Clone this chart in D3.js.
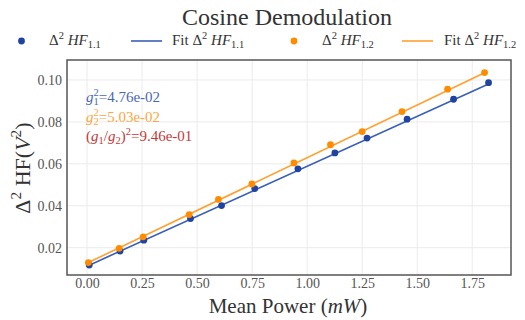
<!DOCTYPE html>
<html>
<head>
<meta charset="utf-8">
<script src="https://cdn.jsdelivr.net/npm/d3@7"></script>
<style>
  body { margin: 0; background: #fff; }
  svg text { font-family: "Liberation Serif", "DejaVu Serif", serif; }
</style>
</head>
<body>
<div id="chart"></div>
<script>
// measured points, mean power (mW) vs Δ²HF (V²)
const power11 = [0.010, 0.150, 0.258, 0.470, 0.611, 0.762, 0.958, 1.126, 1.272, 1.454, 1.665, 1.824];
const hf11    = [0.0117, 0.0184, 0.0236, 0.0339, 0.0401, 0.0482, 0.0576, 0.0652, 0.0723, 0.0813, 0.0908, 0.0987];
const power12 = [0.006, 0.146, 0.255, 0.464, 0.597, 0.749, 0.940, 1.106, 1.250, 1.431, 1.638, 1.806];
const hf12    = [0.0129, 0.0197, 0.0252, 0.0358, 0.0430, 0.0504, 0.0604, 0.0691, 0.0754, 0.0849, 0.0956, 0.1035];

// linear fits (slope = g², intercept)
const fit11 = { slope: 0.0476, intercept: 0.0112 };
const fit12 = { slope: 0.0503, intercept: 0.0126 };

const xTicks = [0, 0.25, 0.5, 0.75, 1.0, 1.25, 1.5, 1.75];
const yTicks = [0.02, 0.04, 0.06, 0.08, 0.10];

const blue = "#1f43a0", blueLine = "#3a5fb8";
const orange = "#ff8c00", orangeLine = "#ffa030";

const width = 525, height = 320;
const margin = { top: 60, right: 14, bottom: 45, left: 67 };

const svg = d3.select("#chart").append("svg")
    .attr("width", width)
    .attr("height", height);

const x = d3.scaleLinear().domain([-0.091, 1.926]).range([margin.left, width - margin.right]);
const y = d3.scaleLinear().domain([0.00698, 0.10951]).range([height - margin.bottom, margin.top]);

// grid
svg.append("g")
    .selectAll("line")
    .data(xTicks)
    .join("line")
    .attr("x1", d => x(d)).attr("x2", d => x(d))
    .attr("y1", margin.top).attr("y2", height - margin.bottom)
    .attr("stroke", "#ebebeb").attr("stroke-width", 1);

svg.append("g")
    .selectAll("line")
    .data(yTicks)
    .join("line")
    .attr("y1", d => y(d)).attr("y2", d => y(d))
    .attr("x1", margin.left).attr("x2", width - margin.right)
    .attr("stroke", "#ebebeb").attr("stroke-width", 1);

// axes without tick marks
const xAxis = svg.append("g")
    .attr("transform", `translate(0,${height - margin.bottom})`)
    .call(d3.axisBottom(x).tickValues(xTicks).tickFormat(d3.format(".2f")).tickSize(0).tickPadding(3));
const yAxis = svg.append("g")
    .attr("transform", `translate(${margin.left},0)`)
    .call(d3.axisLeft(y).tickValues(yTicks).tickFormat(d3.format(".2f")).tickSize(0).tickPadding(5));

[xAxis, yAxis].forEach(a => {
  a.select(".domain").remove();
  a.selectAll("text")
      .attr("fill", "#555")
      .style("font-size", "14px")
      .style("font-family", "'Liberation Serif', serif");
});

// frame
svg.append("rect")
    .attr("x", margin.left).attr("y", margin.top)
    .attr("width", width - margin.left - margin.right)
    .attr("height", height - margin.top - margin.bottom)
    .attr("fill", "none").attr("stroke", "#555").attr("stroke-width", 1.5);

// fit lines across the measured range
function drawFit(px, fit, color) {
  const ext = d3.extent(px);
  svg.append("line")
      .attr("x1", x(ext[0])).attr("y1", y(fit.intercept + fit.slope * ext[0]))
      .attr("x2", x(ext[1])).attr("y2", y(fit.intercept + fit.slope * ext[1]))
      .attr("stroke", color).attr("stroke-width", 1.6);
}
drawFit(power11, fit11, blueLine);
drawFit(power12, fit12, orangeLine);

function drawPoints(px, py, color) {
  svg.append("g")
      .selectAll("circle")
      .data(px.map((d, i) => [d, py[i]]))
      .join("circle")
      .attr("cx", d => x(d[0]))
      .attr("cy", d => y(d[1]))
      .attr("r", 3.4)
      .attr("fill", color);
}
drawPoints(power11, hf11, blue);
drawPoints(power12, hf12, orange);

// rich text helper: segments of [text, style], style in {n, i, sup, sub, subback}
// "subback" is a subscript drawn under the preceding superscript
function rich(sel, parts, size) {
  let shift = 0, lastW = 0;
  parts.forEach(([t, s]) => {
    const ts = sel.append("tspan").text(t);
    let target = 0;
    if (s === "sup") target = -0.42 * size;
    if (s === "sub" || s === "subback") target = 0.22 * size;
    if (target !== shift) { ts.attr("dy", target - shift); shift = target; }
    if (s === "sup" || s === "sub" || s === "subback") ts.style("font-size", (size * 0.7) + "px");
    if (s === "i") ts.style("font-style", "italic");
    if (s === "subback") ts.attr("dx", -lastW);
    lastW = ts.node().getComputedTextLength();
  });
  return sel;
}

// title
svg.append("text")
    .attr("x", 287).attr("y", 25)
    .attr("text-anchor", "middle")
    .attr("fill", "#333")
    .style("font-size", "24px")
    .text("Cosine Demodulation");

// legend
const legY = 41;
const legend = svg.append("g").attr("fill", "#333").style("font-size", "15px");
function hfLabel(x0, prefix, sub) {
  const t = legend.append("text").attr("x", x0).attr("y", legY + 4);
  const parts = [];
  if (prefix) parts.push([prefix, "n"]);
  parts.push(["Δ", "n"], ["2", "sup"], [" ", "n"], ["HF", "i"], [sub, "sub"]);
  rich(t, parts, 15);
}
legend.append("circle").attr("cx", 21.5).attr("cy", legY).attr("r", 3.4).attr("fill", blue);
hfLabel(49, "", "1.1");
legend.append("line").attr("x1", 131).attr("x2", 162).attr("y1", legY).attr("y2", legY)
    .attr("stroke", blueLine).attr("stroke-width", 1.6);
hfLabel(172, "Fit ", "1.1");
legend.append("circle").attr("cx", 294).attr("cy", legY).attr("r", 3.4).attr("fill", orange);
hfLabel(322, "", "1.2");
legend.append("line").attr("x1", 402).attr("x2", 433).attr("y1", legY).attr("y2", legY)
    .attr("stroke", orangeLine).attr("stroke-width", 1.6);
hfLabel(444, "Fit ", "1.2");

// annotations
const ann = svg.append("g").style("font-size", "15px");
rich(ann.append("text").attr("x", 86).attr("y", 102).attr("fill", "#4a68b8"),
    [["g", "i"], ["2", "sup"], ["1", "subback"], ["=4.76e-02", "n"]], 15);
rich(ann.append("text").attr("x", 86).attr("y", 122).attr("fill", "#ffa640"),
    [["g", "i"], ["2", "sup"], ["2", "subback"], ["=5.03e-02", "n"]], 15);
rich(ann.append("text").attr("x", 86).attr("y", 141).attr("fill", "#c43a3a"),
    [["(", "n"], ["g", "i"], ["1", "sub"], ["/", "n"], ["g", "i"], ["2", "sub"], [")", "n"], ["2", "sup"], ["=9.46e-01", "n"]], 15);

// axis titles
rich(svg.append("text")
    .attr("x", 288).attr("y", 313)
    .attr("text-anchor", "middle")
    .attr("fill", "#333")
    .style("font-size", "21px"),
    [["Mean Power (", "n"], ["mW", "i"], [")", "n"]], 21);

rich(svg.append("text")
    .attr("transform", `translate(30,168) rotate(-90)`)
    .attr("text-anchor", "middle")
    .attr("fill", "#333")
    .style("font-size", "22px"),
    [["Δ", "n"], ["2", "sup"], [" HF(", "n"], ["V", "i"], ["2", "sup"], [")", "n"]], 22);
</script>
</body>
</html>
